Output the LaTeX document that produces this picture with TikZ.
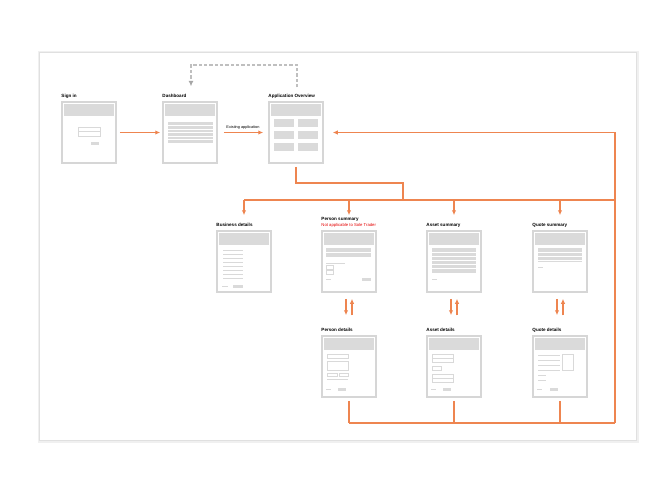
\documentclass[tikz,border=0pt]{standalone}
\usepackage{fontspec}
\setmainfont{Liberation Sans}
\usetikzlibrary{arrows.meta,positioning}

\definecolor{flow}{HTML}{EE8550}
\definecolor{wire}{HTML}{D6D6D6}
\definecolor{blockgray}{HTML}{DADADA}

\tikzset{
	screen/.style={draw=wire, line width=0.045cm, fill=white, inner sep=0,
		minimum width=1.62cm, minimum height=1.83cm,
		path picture={\fill[blockgray] ([xshift=0.06cm,yshift=-0.06cm]path picture bounding box.north west)
			rectangle ([xshift=-0.06cm,yshift=-0.42cm]path picture bounding box.north east);}},
	lbl/.style={font=\fontsize{3.9}{4.5}\selectfont\bfseries, inner sep=0, anchor=base west},
	note/.style={font=\fontsize{3.3}{4}\selectfont, inner sep=0},
	flowline/.style={draw=flow, line width=0.042cm},
	flowarrow/.style={flowline, -{Latex[length=0.15cm,width=0.13cm]}},
	back/.style={draw=black!25, line width=0.04cm, dash pattern=on 0.1cm off 0.06cm,
		-{Latex[length=0.16cm,width=0.15cm,black!35,sep=0pt]}},
	fld/.style={draw=black!15, line width=0.02cm},
	blk/.style={fill=blockgray}
}

\begin{document}
\begin{tikzpicture}[x=0.03cm, y=-0.03cm]
	\useasboundingbox (0,0) rectangle (672,493);

	% sheet
	\draw[black!6, line width=0.12cm] (39.5,52.5) rectangle (636.5,440.5);
	\draw[black!12, fill=white, line width=0.03cm] (39,52) rectangle (636,440);

	% top row of screens
	\node[screen] (signin) at (89,132.5) {};
	\node[screen] (dash) at (190,132.5) {};
	\node[screen] (ov) at (296,132.5) {};

	\node[lbl] (lsignin) at ([yshift=0.12cm]signin.north west) {Sign in};
	\node[lbl] (ldash) at ([yshift=0.12cm]dash.north west) {Dashboard};
	\node[lbl] (lov) at ([yshift=0.12cm]ov.north west) {Application Overview};

	% sign in contents
	\draw[fld] (78,127) rectangle (100,131.5);
	\draw[fld] (78,131.5) rectangle (100,136);
	\fill[blk] (91,142) rectangle (99,145);

	% dashboard contents
	\fill[blk] (168,122) rectangle (213,143);
	\foreach \y in {125.5,129,132.5,136,139.5}
		\draw[white, line width=0.02cm] (168,\y) -- (213,\y);

	% overview contents
	\foreach \x in {274,298}
		\foreach \y in {119,131,143}
			\fill[blk] (\x,\y) rectangle ++(20,8);

	% summary row
	\node[screen] (bus) at (244,261.5) {};
	\node[screen] (psum) at (349,261.5) {};
	\node[screen] (asum) at (454,261.5) {};
	\node[screen] (qsum) at (560,261.5) {};

	\node[lbl] (lbus) at ([yshift=0.12cm]bus.north west) {Business details};
	\node[lbl, text=red!90!black, font=\fontsize{3.6}{4}\selectfont] (lnote) at ([yshift=0.12cm]psum.north west) {Not applicable to Sole Trader};
	\node[lbl] (lpsum) at ([yshift=0.18cm]lnote.base west) {Person summary};
	\node[lbl] (lasum) at ([yshift=0.12cm]asum.north west) {Asset summary};
	\node[lbl] (lqsum) at ([yshift=0.12cm]qsum.north west) {Quote summary};

	% business details contents
	\foreach \y in {250,254,...,278}
		\draw[fld] (223,\y) -- (243,\y);
	\draw[fld] (222,286) -- (228,286);
	\fill[blk] (233,284.5) rectangle (243,287.5);

	% person summary contents
	\fill[blk] (326,248) rectangle (371,257);
	\draw[white, line width=0.02cm] (326,252.5) -- (371,252.5);
	\draw[fld] (326,263) -- (345,263);
	\draw[fld] (326,265.5) rectangle (333,269.5);
	\draw[fld] (326,270) rectangle (333,274);
	\draw[fld] (326,279) -- (331,279);
	\fill[blk] (362,277.5) rectangle (371,280.5);

	% asset summary contents
	\fill[blk] (432,248) rectangle (476,273);
	\foreach \y in {252,256,...,270}
		\draw[white, line width=0.02cm] (432,\y) -- (476,\y);
	\draw[fld] (432,279) -- (437,279);

	% quote summary contents
	\fill[blk] (538,248) rectangle (582,262);
	\foreach \y in {252,256,260}
		\draw[white, line width=0.02cm] (538,\y) -- (582,\y);
	\draw[fld] (538,267) -- (543,267);

	% details row
	\node[screen] (pdet) at (349,366.5) {};
	\node[screen] (adet) at (454,366.5) {};
	\node[screen] (qdet) at (560,366.5) {};

	\node[lbl] (lpdet) at ([yshift=0.12cm]pdet.north west) {Person details};
	\node[lbl] (ladet) at ([yshift=0.12cm]adet.north west) {Asset details};
	\node[lbl] (lqdet) at ([yshift=0.12cm]qdet.north west) {Quote details};

	% person details contents
	\draw[fld] (327,354) rectangle (348,358);
	\draw[fld] (327,361) rectangle (348,370);
	\draw[fld] (327,373) rectangle (337,376);
	\draw[fld] (339,373) rectangle (348,376);
	\draw[fld] (327,379) -- (348,379);
	\draw[fld] (326,389) -- (331,389);
	\fill[blk] (338,387.5) rectangle (346,390.5);

	% asset details contents
	\draw[fld] (432,354) rectangle (453,358);
	\draw[fld] (432,358) rectangle (453,362);
	\draw[fld] (432,366) rectangle (441,370);
	\draw[fld] (432,374) rectangle (453,378);
	\draw[fld] (432,378) rectangle (453,382);
	\draw[fld] (431,389) -- (436,389);
	\fill[blk] (443,387.5) rectangle (451,390.5);

	% quote details contents
	\foreach \y in {355,360,365,370}
		\draw[fld] (538,\y) -- (560,\y);
	\draw[fld] (562,354) rectangle (573,370);
	\draw[fld] (538,375) -- (546,375);
	\draw[fld] (538,380) -- (546,380);
	\draw[fld] (537,389) -- (542,389);
	\fill[blk] (550,387.5) rectangle (558,390.5);

	% top flow
	\draw[flowarrow, shorten <=0.09cm, shorten >=0.06cm] (signin.east) -- (dash.west);
	\draw[flowarrow, shorten <=0.18cm, shorten >=0.15cm] (dash.east)
		-- node[note, above=0.09cm] (lexist) {Existing application} (ov.east -| ov.west);

	% back to dashboard
	\coordinate (loopR) at (297,65);
	\coordinate (loopL) at (191,65);
	\draw[back] ([xshift=0.03cm, yshift=0.42cm]ov.north) -- (loopR) -- (loopL) -- ([xshift=0.03cm, yshift=0.45cm]dash.north);

	% branch to the summaries
	\coordinate (knee) at (403,183);
	\coordinate (hub) at (403,200);
	\coordinate (rtop) at (615,132.5);
	\coordinate (rbot) at (615,423);
	\draw[flowline, shorten <=0.09cm] (ov.south) |- (knee) -- (hub);
	\draw[flowline] (bus.north |- hub) -- (rtop |- hub);
	\foreach \s in {bus,psum,asum,qsum}
		\draw[flowarrow] (\s.north |- hub) -- ([yshift=0.45cm]\s.north);

	% summary <-> details
	\foreach \s/\d in {psum/pdet,asum/adet,qsum/qdet} {
		\draw[flowarrow] ([xshift=-0.09cm,yshift=-0.18cm]\s.south) -- ([xshift=-0.09cm,yshift=0.6cm]\d.north);
		\draw[flowarrow] ([xshift=0.09cm,yshift=0.6cm]\d.north) -- ([xshift=0.09cm,yshift=-0.18cm]\s.south);
	}

	% return to overview
	\foreach \d in {pdet,adet,qdet}
		\draw[flowline, shorten <=0.09cm] (\d.south) -- (\d.south |- rbot);
	\draw[flowline] (pdet.south |- rbot) -- (rbot);
	\draw[flowarrow, shorten >=0.27cm] (rbot) -- (rtop) -- (ov.east);
\end{tikzpicture}
\end{document}
